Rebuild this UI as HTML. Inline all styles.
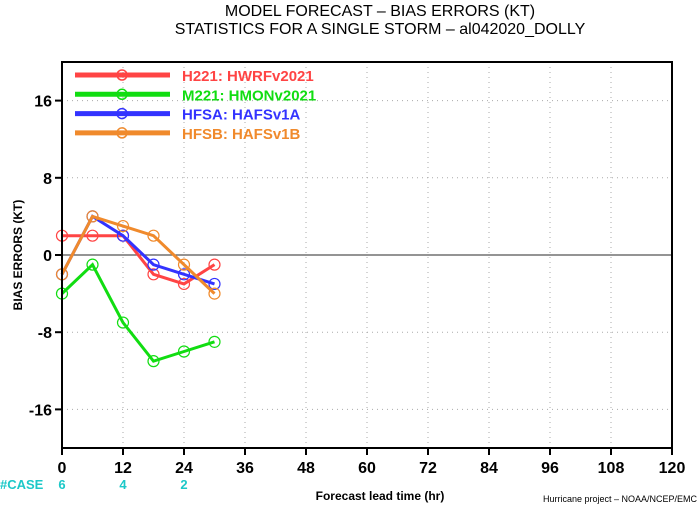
<!DOCTYPE html>
<html><head><meta charset="utf-8"><style>
body{margin:0;background:#fff;font-family:"Liberation Sans",sans-serif}
svg{display:block}
</style></head><body>
<svg id="c" width="700" height="506" xmlns="http://www.w3.org/2000/svg" font-family="Liberation Sans, sans-serif">
<text x="380" y="16" text-anchor="middle" font-size="16">MODEL FORECAST – BIAS ERRORS (KT)</text>
<text x="380" y="34" text-anchor="middle" font-size="16">STATISTICS FOR A SINGLE STORM – al042020_DOLLY</text>
<g id="grid"></g>
<g id="series"></g>
<g id="legend"></g>
<rect x="62" y="62" width="610" height="386" fill="none" stroke="#000" stroke-width="2"/>
<text x="22" y="255" transform="rotate(-90 22 255)" text-anchor="middle" font-size="12" font-weight="bold">BIAS ERRORS (KT)</text>
<text x="0" y="489" font-size="13" font-weight="bold" fill="#1cc8c8">#CASE</text>
<text x="380" y="500" text-anchor="middle" font-size="12" font-weight="bold">Forecast lead time (hr)</text>
<text x="697" y="502" text-anchor="end" font-size="9">Hurricane project – NOAA/NCEP/EMC</text>
</svg>
<script>
const hours=[0,6,12,18,24,30];
const h221=[2,2,2,-2,-3,-1];
const m221=[-4,-1,-7,-11,-10,-9];
const hfsa=[-2,4,2,-1,-2,-3];
const hfsb=[-2,4,3,2,-1,-4];
const xTicks=[0,12,24,36,48,60,72,84,96,108,120];
const yTicks=[16,8,0,-8,-16];
const caseHours=[0,12,24];
const caseCounts=[6,4,2];
const seriesNames=["H221: HWRFv2021","M221: HMONv2021","HFSA: HAFSv1A","HFSB: HAFSv1B"];
const NS="http://www.w3.org/2000/svg";
const X=h=>62+h*610/120, Y=v=>255-v*386/40;
function mk(t,a,p){const e=document.createElementNS(NS,t);for(const k in a)e.setAttribute(k,a[k]);p.appendChild(e);return e;}
const g=document.getElementById('grid');
xTicks.forEach((t,i)=>{
 if(i>0&&i<xTicks.length-1){const l=mk('line',{x1:X(t),x2:X(t),y1:62,y2:448,stroke:'#aaa','stroke-dasharray':'1 4'},g);
 
 }
 const tk=mk('line',{x1:X(t),x2:X(t),y1:448,y2:455,stroke:'#000','stroke-width':2},g);
 
 
 const tx=mk('text',{x:X(t),y:473,'text-anchor':'middle','font-size':16,'font-weight':'bold'},g);tx.textContent=t;
 
 
});
yTicks.forEach(t=>{
 if(t!==0){const l=mk('line',{x1:62,x2:672,y1:Y(t),y2:Y(t),stroke:'#aaa','stroke-dasharray':'1 4'},g);
 
 }
 const tk=mk('line',{x1:55,x2:62,y1:Y(t),y2:Y(t),stroke:'#000','stroke-width':2},g);
 
 
 const tx=mk('text',{x:52,y:Y(t)+6,'text-anchor':'end','font-size':16,'font-weight':'bold'},g);tx.textContent=t;
 
 
});
const z=mk('line',{x1:62,x2:672,y1:Y(0),y2:Y(0),stroke:'#555','stroke-width':1.2},g);


caseHours.forEach((h,i)=>{const t=mk('text',{x:X(h),y:489,'text-anchor':'middle','font-size':13,'font-weight':'bold',fill:'#1cc8c8'},g);t.textContent=caseCounts[i];
 
 });
const data=[h221,m221,hfsa,hfsb], cols=['#f44','#1d1','#33f','#f08a2c'];
const sg=document.getElementById('series'), lg=document.getElementById('legend');
data.forEach((d,i)=>{
 const p=mk('polyline',{points:d.map((v,j)=>X(hours[j])+','+Y(v)).join(' '),fill:'none',stroke:cols[i],'stroke-width':3},sg);
 
 
 d.forEach((v,j)=>{const c=mk('circle',{cx:X(hours[j]),cy:Y(v),r:5.5,fill:'none',stroke:cols[i],'stroke-width':1.2},sg);
 
 });
 const ly=75+i*19.3;
 const ll=mk('line',{x1:75,x2:170,y1:ly,y2:ly,stroke:cols[i],'stroke-width':5},lg);
 
 
 mk('circle',{cx:122,cy:ly,r:5,fill:'none',stroke:cols[i],'stroke-width':1.5},lg);
 const t=mk('text',{x:182,y:ly+6,'font-size':15,'font-weight':'bold',fill:cols[i]},lg);t.textContent=seriesNames[i];
 
 
});
</script>
</body></html>
